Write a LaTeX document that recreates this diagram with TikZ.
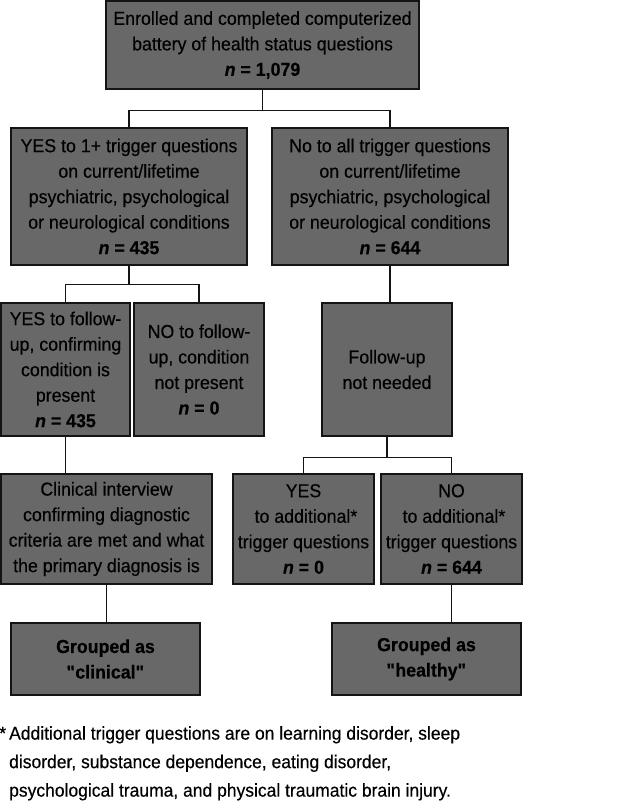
\documentclass[tikz,border=0pt]{standalone}
\usepackage{fontspec}
\setmainfont{Liberation Sans}[FakeStretch=0.945, FakeBold=0.35]
\usepackage{tikz}
\usetikzlibrary{positioning, calc}
\definecolor{flowgray}{RGB}{104, 104, 104}
\definecolor{flowline}{RGB}{20, 20, 20}
\newcommand{\nn}[1]{\textbf{\textit{n}~=~#1}}
\tikzset{
  flowbox/.style={
    rectangle,
    draw=flowline,
    line width=1.3pt,
    fill=flowgray,
    inner sep=1pt,
    align=center,
    font=\fontsize{18.8}{25.5}\selectfont\color{black}
  },
  link/.style={
    draw=flowline,
    line width=1.3pt
  },
  groupbox/.style={
    flowbox,
    font=\fontsize{18.8}{25.5}\selectfont\bfseries\color{black}
  }
}

\begin{document}
\begin{tikzpicture}[x=1pt, y=-1pt]
  \useasboundingbox (0,0) rectangle (630,802);
  % boxes
  \node[flowbox, minimum width=313pt, minimum height=88pt] (enrol) at (262.5, 45)
    {Enrolled and completed computerized\\battery of health status questions\\\nn{1,079}};
  \node[flowbox, minimum width=236pt, minimum height=137pt] (yesone) at (129, 196.5)
    {YES to 1+ trigger questions\\on current/lifetime\\psychiatric, psychological\\or neurological conditions\\\nn{435}};
  \node[flowbox, minimum width=236pt, minimum height=137pt] (noall) at (390, 196.5)
    {No to all trigger questions\\on current/lifetime\\psychiatric, psychological\\or neurological conditions\\\nn{644}};
  \node[flowbox, minimum width=129pt, minimum height=133pt] (yesfu) at (65.5, 369.5)
    {YES to follow-\\up, confirming\\condition is\\present\\\nn{435}};
  \node[flowbox, minimum width=130pt, minimum height=133pt] (nofu) at (199, 369.5)
    {NO to follow-\\up, condition\\not present\\\nn{0}};
  \node[flowbox, minimum width=130pt, minimum height=133pt] (notneeded) at (387, 369.5)
    {Follow-up\\not needed};
  \node[flowbox, minimum width=211pt, minimum height=110pt] (interview) at (106.5, 529)
    {Clinical interview\\confirming diagnostic\\criteria are met and what\\the primary diagnosis is};
  \node[flowbox, minimum width=141pt, minimum height=110pt] (yesadd) at (303.5, 529)
    {YES\\\ to additional*\\trigger questions\\\nn{0}};
  \node[flowbox, minimum width=141pt, minimum height=110pt] (noadd) at (451.5, 529)
    {NO\\\ to additional*\\trigger questions\\\nn{644}};
  \node[groupbox, minimum width=189pt, minimum height=72pt] (clinical) at (105.5, 659)
    {Grouped as\\\textquotedbl clinical\textquotedbl};
  \node[groupbox, minimum width=189pt, minimum height=72pt] (healthy) at (426.5, 659)
    {Grouped as\\\textquotedbl healthy\textquotedbl};

  % footnote
  \node[anchor=north west, inner sep=0pt, align=left,
        font=\fontsize{18.5}{28.5}\selectfont] (note) at (9, 726)
    {\llap{*\,}Additional trigger questions are on learning disorder, sleep\\
     disorder, substance dependence, eating disorder,\\
     psychological trauma, and physical traumatic brain injury.};

  % connectors
  \coordinate (forkA) at ($(enrol.south)+(0,21)$);
  \coordinate (forkB) at ($(yesone.south)+(0,19)$);
  \coordinate (forkC) at ($(notneeded.south)+(0,21)$);
  \draw[link] (enrol.south) -- (forkA) -| (yesone.north);
  \draw[link] (forkA) -| (noall.north);
  \draw[link] (yesone.south) -- (forkB) -| (yesfu.north);
  \draw[link] (forkB) -| (nofu.north);
  \draw[link] (noall.south) -- (noall.south |- notneeded.north);
  \draw[link] (notneeded.south) -- (forkC) -| (yesadd.north);
  \draw[link] (forkC) -| (noadd.north);
  \draw[link] (yesfu.south) -- (yesfu.south |- interview.north);
  \draw[link] (interview.south) -- (interview.south |- clinical.north);
  \draw[link] (noadd.south) -- (noadd.south |- healthy.north);
\end{tikzpicture}
\end{document}
